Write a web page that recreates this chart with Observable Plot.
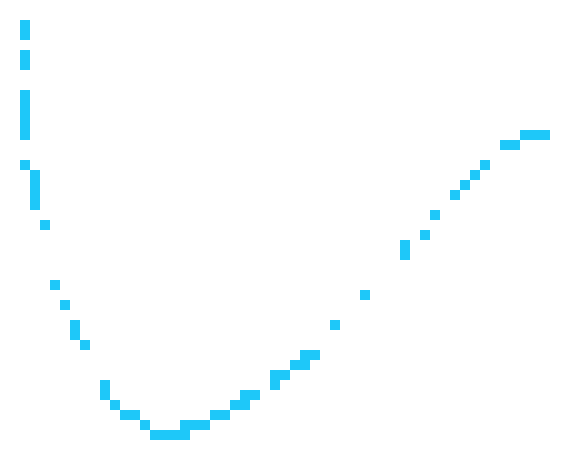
<!DOCTYPE html>
<html>
<head>
<meta charset="utf-8">
<script src="https://cdn.jsdelivr.net/npm/d3@7"></script>
<script src="https://cdn.jsdelivr.net/npm/@observablehq/plot@0.6"></script>
<style>
  html, body { margin: 0; padding: 0; background: #ffffff; }
  #chart svg { display: block; }
</style>
</head>
<body>
<div id="chart"></div>
<script>
// Grid: 57 columns x 45 rows
const nCols = 57;
const nRows = 45;

// Filled cells: column index and row index (row 0 at top)
const cellCols = [
  2,2,2,2,2,2,2,2,2,2,
  3,3,3,3,
  4,5,6,7,7,8,
  10,10,11,12,13,14,15,16,17,18,18,19,20,21,22,23,24,24,25,
  27,27,28,29,30,30,31,33,36,
  40,40,42,43,45,46,47,48,50,51,52,53,54
];
const cellRows = [
  2,3,5,6,9,10,11,12,13,16,
  17,18,19,20,
  22,28,30,32,33,34,
  38,39,40,41,41,42,43,43,43,42,43,42,42,41,41,40,39,40,39,
  37,38,37,36,35,36,35,32,29,
  24,25,23,21,19,18,17,16,14,14,13,13,13
];

const data = cellCols.map((c, i) => ({col: c, row: cellRows[i]}));

const chart = Plot.plot({
  width: 570,
  height: 450,
  margin: 0,
  x: {type: "band", domain: d3.range(nCols), padding: 0, axis: null},
  y: {type: "band", domain: d3.range(nRows), padding: 0, axis: null},
  marks: [
    Plot.cell(data, {x: "col", y: "row", fill: "#1ec8f9"})
  ]
});
document.getElementById("chart").appendChild(chart);
</script>
</body>
</html>
